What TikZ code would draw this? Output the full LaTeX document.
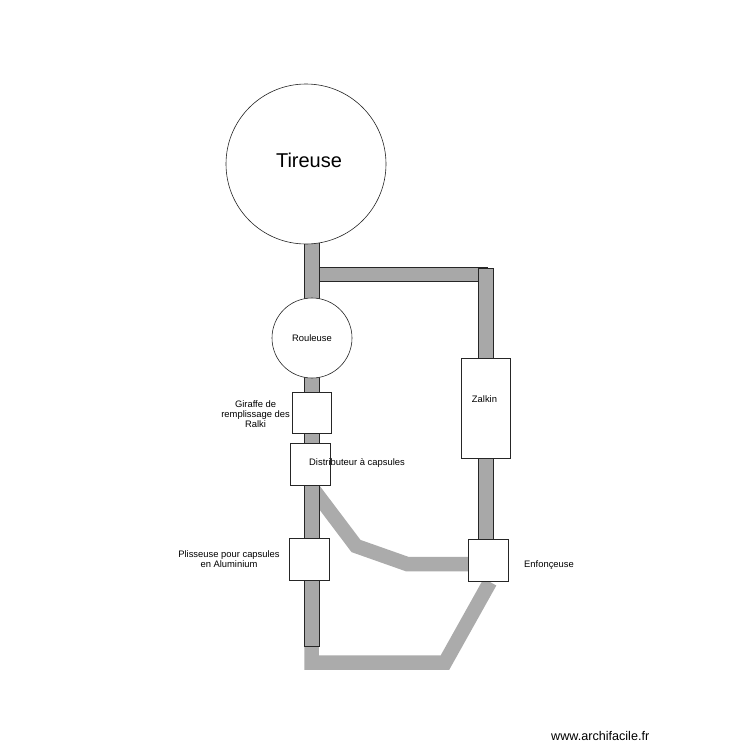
\documentclass[tikz,border=0pt]{standalone}
\usepackage{fontspec}
\setmainfont{Liberation Sans}
\begin{document}
\begin{tikzpicture}[x=1pt,y=-1pt,
  box/.style={draw=black!85,fill=white,line width=0.6pt,inner sep=0pt},
  disc/.style={circle,draw=black!85,fill=white,line width=0.6pt,inner sep=0pt},
  bar/.style={draw=black!85,fill=black!34,line width=0.6pt},
  band/.style={draw=black!33,line width=14.5pt,line join=miter},
  lbl/.style={font=\fontsize{9.4}{10.2}\selectfont,inner sep=0pt,align=center}]
\useasboundingbox (0,0) rectangle (750,750);
% bands (unoutlined)
\draw[band] (313,489) -- (356,546) -- (407,564) -- (470,564);
\draw[band] (311.5,640) -- (311.5,662.5) -- (445,662.5) -- (490,582);
% outlined bars
\draw[bar] (304,240) rectangle (319,646);
\draw[bar] (319,267) rectangle (487,281);
\draw[bar] (478,268) rectangle (493,541);
% nodes
\node[disc,minimum size=160pt] (tireuse) at (306,164) {};
\node[font=\fontsize{20}{24}\selectfont] (tireuselbl) at (309,160) {Tireuse};
\node[disc,minimum size=80pt,lbl] (rouleuse) at (312,338) {Rouleuse};
\node[box,minimum width=39pt,minimum height=41pt] (giraffe) at (311.5,412.5) {};
\node[lbl,anchor=east,align=center] (giraffelbl) at (290,414) {Giraffe de\\remplissage des\\Ralki};
\node[box,minimum width=40pt,minimum height=42pt] (distrib) at (310,464) {};
\node[lbl,anchor=west] (distriblbl) at (309,463) {Distributeur à capsules};
\node[box,minimum width=40pt,minimum height=42pt] (plisseuse) at (309,559) {};
\node[lbl] (plisseuselbl) at (229,559) {Plisseuse pour capsules\\en Aluminium};
\node[box,minimum width=49pt,minimum height=100pt] (zalkin) at (485.5,408) {};
\node[lbl] (zalkinlbl) at (484.5,399) {Zalkin};
\node[box,minimum width=40pt,minimum height=42pt] (enfon) at (488,560) {};
\node[lbl,anchor=west] (enfonlbl) at (524,565) {Enfonçeuse};
\node[font=\fontsize{12.6}{14}\selectfont,anchor=west,inner sep=0pt] (wm) at (551,736) {www.archifacile.fr};
\end{tikzpicture}
\end{document}
